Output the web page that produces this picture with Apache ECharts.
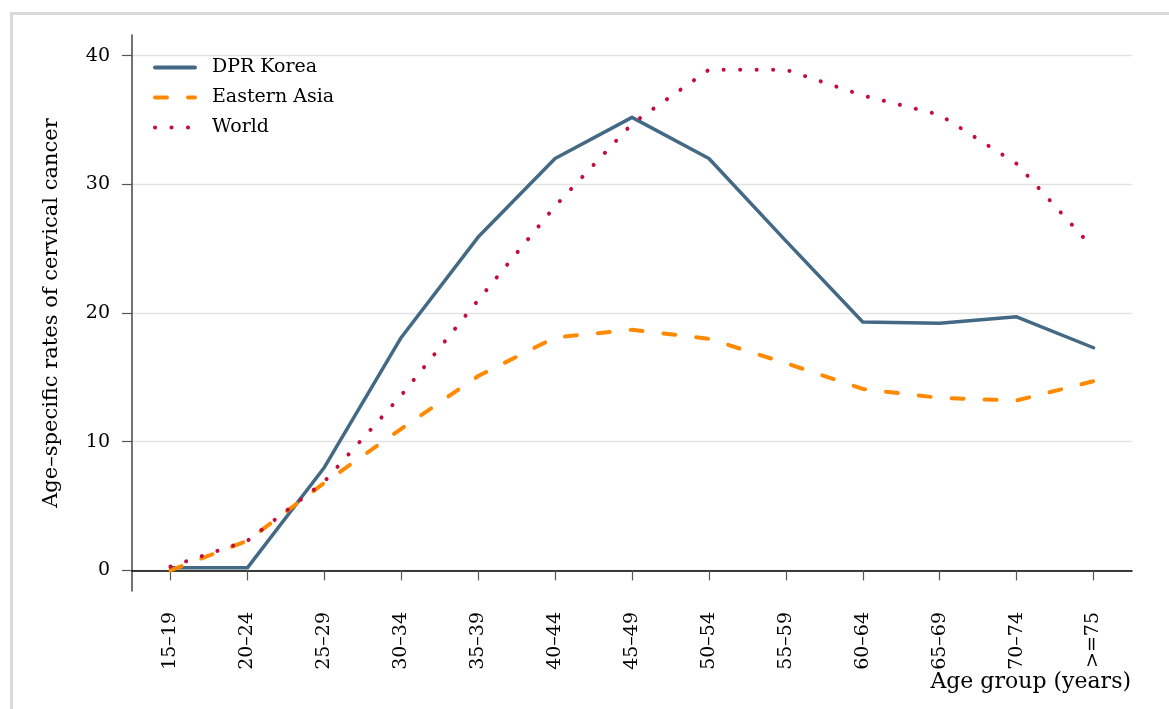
<!DOCTYPE html>
<html>
<head>
<meta charset="utf-8">
<script src="https://cdn.jsdelivr.net/npm/echarts@6/dist/echarts.min.js"></script>
<style>
html,body{margin:0;padding:0;background:#fff;}
#chart{width:1169px;height:709px;}
</style>
</head>
<body>
<div id="chart"></div>
<script>
const categories = ['15–19','20–24','25–29','30–34','35–39','40–44','45–49','50–54','55–59','60–64','65–69','70–74','>=75'];
const dprKorea = [0.2,0.2,8.0,18.1,25.9,32.0,35.2,32.0,25.6,19.3,19.2,19.7,17.3];
const easternAsia = [0.0,2.3,6.8,11.0,15.1,18.1,18.7,18.0,16.1,14.1,13.4,13.2,14.7];
const world = [0.3,2.3,6.9,13.6,21.0,28.3,34.7,38.9,38.9,36.9,35.4,31.6,25.0];
const yTicks = [0,10,20,30,40];
const seriesNames = ['DPR Korea','Eastern Asia','World'];
const xAxisTitle = 'Age group (years)';
const yAxisTitle = 'Age–specific rates of cervical cancer';

const FONT = 'DejaVu Serif';
const chart = echarts.init(document.getElementById('chart'), null, {renderer:'canvas'});
chart.setOption({
  animation:false,
  backgroundColor:'#ffffff',
  textStyle:{fontFamily:FONT,color:'#000'},
  title:{
    text:xAxisTitle, right:38, top:671, padding:0,
    textStyle:{fontFamily:FONT,fontSize:22,fontWeight:'normal',color:'#000'}
  },
  graphic:[{
    type:'rect', left:9, top:11, shape:{width:1300,height:800},
    style:{fill:'none',stroke:'#dadada',lineWidth:3}, silent:true, z:-1
  }],
  grid:{left:132, top:35, width:1000, height:556, containLabel:false, outerBoundsMode:'none'},
  legend:{
    orient:'vertical', left:148, top:53, itemWidth:40, itemHeight:14, itemGap:11,
    data:seriesNames,
    itemStyle:{color:'rgba(0,0,0,0)',borderColor:'rgba(0,0,0,0)',borderWidth:0},
    lineStyle:{width:4,cap:'round'},
    textStyle:{fontFamily:FONT,fontSize:19,color:'#000',padding:[0,0,0,12]}
  },
  xAxis:{
    type:'category', data:categories, boundaryGap:true,
    axisLine:{show:true,lineStyle:{color:'#000',width:1.5}},
    axisTick:{show:true,alignWithLabel:true,length:10,lineStyle:{color:'#555',width:1.2}},
    axisLabel:{rotate:90,margin:21,fontFamily:FONT,fontSize:19,color:'#000',interval:0},
    splitLine:{show:false}
  },
  yAxis:{
    type:'value', min:-1.6, max:41.6,
    axisLine:{show:true,lineStyle:{color:'#444',width:1.5}},
    axisTick:{show:true,length:10,customValues:yTicks,lineStyle:{color:'#555',width:1.2}},
    axisLabel:{customValues:yTicks,margin:22,fontFamily:FONT,fontSize:19,color:'#000'},
    splitLine:{show:true,lineStyle:{color:'#e3e3e3',width:1.3}},
    name:yAxisTitle, nameLocation:'middle', nameGap:70,
    nameTextStyle:{fontFamily:FONT,fontSize:21,color:'#000'}
  },
  series:[
    {name:seriesNames[0], type:'line', data:dprKorea, symbol:'none', showSymbol:false,
     lineStyle:{color:'#436985',width:3.5,cap:'round',join:'round'}, itemStyle:{color:'#436985'}},
    {name:seriesNames[1], type:'line', data:easternAsia, symbol:'none', showSymbol:false,
     lineStyle:{color:'#ff8a00',width:4,type:[12,21],cap:'round'}, itemStyle:{color:'#ff8a00'}},
    {name:seriesNames[2], type:'line', data:world, symbol:'none', showSymbol:false,
     lineStyle:{color:'#c40d3a',width:4,type:[0.1,16.4],cap:'round'}, itemStyle:{color:'#c40d3a'}}
  ]
});
</script>
</body>
</html>
